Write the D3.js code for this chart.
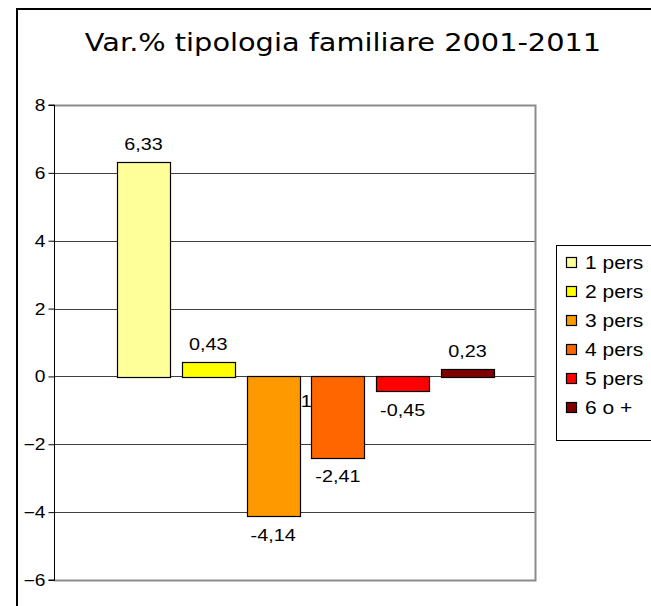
<!DOCTYPE html>
<html lang="it">
<head>
<meta charset="utf-8">
<title>Var.% tipologia familiare 2001-2011</title>
<script src="https://d3js.org/d3.v7.min.js"></script>
<style>
  body { margin: 0; background: #fff; }
  text { font-family: "Liberation Sans", Arial, sans-serif; fill: #000; }
  .title { font-family: "DejaVu Sans", Verdana, sans-serif; }
</style>
</head>
<body>
<svg id="chart" width="651" height="606"></svg>
<script>
// data
const series = ['1 pers', '2 pers', '3 pers', '4 pers', '5 pers', '6 o +'];
const values = [6.33, 0.43, -4.14, -2.41, -0.45, 0.23];
const labels = ['6,33', '0,43', '-4,14', '-2,41', '-0,45', '0,23'];
const colors = ['#ffff99', '#ffff00', '#ff9900', '#ff6600', '#ff0000', '#800000'];
const yTicks = [-6, -4, -2, 0, 2, 4, 6, 8];

// the original picture is a bit stretched sideways, so is its text
const STRETCH = 1.2;
const place = (x, y) => `translate(${x},${y}) scale(${STRETCH},1)`;

const svg = d3.select('#chart');

// outer chart border (runs off the right and bottom of the picture)
svg.append('rect')
  .attr('x', 17).attr('y', 9)
  .attr('width', 700).attr('height', 700)
  .attr('fill', '#fff').attr('stroke', '#000').attr('stroke-width', 2);

svg.append('text')
  .attr('class', 'title')
  .attr('transform', place(343, 51))
  .attr('text-anchor', 'middle')
  .style('font-size', '24px')
  .text('Var.% tipologia familiare 2001-2011');

const plot = { left: 54, right: 535, top: 105, bottom: 580 };

const y = d3.scaleLinear().domain([-6, 8]).range([plot.bottom, plot.top]);
const x = d3.scaleBand().domain(series).range([117, 494]).paddingInner(0.18);

// gridlines
svg.append('g')
  .selectAll('line')
  .data(yTicks.filter(d => d !== -6 && d !== 8))
  .join('line')
  .attr('x1', plot.left).attr('x2', plot.right)
  .attr('y1', d => Math.round(y(d)) + 0.5).attr('y2', d => Math.round(y(d)) + 0.5)
  .attr('stroke', '#404040');

// plot area border
svg.append('path')
  .attr('d', `M${plot.left},${plot.top + 0.5}H${plot.right + 0.5}V${plot.bottom + 0.5}H${plot.left}`)
  .attr('fill', 'none').attr('stroke', '#8c8c8c').attr('stroke-width', 2);

// hidden label peeking out between bars
svg.append('text')
  .attr('transform', place(x('3 pers') + x.bandwidth() + 1, y(-0.9)))
  .style('font-size', '16.5px')
  .text('1');

// bars
svg.append('g')
  .selectAll('rect')
  .data(values)
  .join('rect')
  .attr('x', (d, i) => Math.round(x(series[i])) + 0.5)
  .attr('y', d => Math.round(y(Math.max(0, d))) + 0.5)
  .attr('width', Math.round(x.bandwidth()))
  .attr('height', d => Math.round(Math.abs(y(d) - y(0))))
  .attr('fill', (d, i) => colors[i])
  .attr('stroke', '#000').attr('stroke-width', 1.2);

// value labels
svg.append('g')
  .selectAll('text')
  .data(values)
  .join('text')
  .attr('transform', (d, i) => place(x(series[i]) + x.bandwidth() / 2, d >= 0 ? y(d) - 12 : y(d) + 24))
  .attr('text-anchor', 'middle')
  .style('font-size', '16.5px')
  .text((d, i) => labels[i]);

// y axis
const yAxis = d3.axisLeft(y).tickValues(yTicks).tickSize(6).tickPadding(5).tickFormat(d3.format('d'));
const ga = svg.append('g')
  .attr('transform', `translate(${plot.left + 0.5},0)`)
  .call(yAxis);
ga.select('.domain').attr('stroke', '#000').attr('d', `M-6,${plot.top}H0V${plot.bottom}H-6`);
ga.selectAll('.tick line').attr('stroke', '#000');
ga.selectAll('.tick text')
  .attr('x', null).attr('dy', null)
  .attr('transform', `translate(-9,5.5) scale(${STRETCH},1)`)
  .style('font-family', '"Liberation Sans", Arial, sans-serif')
  .style('font-size', '16px')
  .attr('fill', '#000');

// legend
const legend = svg.append('g');
legend.append('rect')
  .attr('x', 556.5).attr('y', 245.5)
  .attr('width', 120).attr('height', 195)
  .attr('fill', '#fff').attr('stroke', '#000');

const item = legend.selectAll('g.item')
  .data(series)
  .join('g')
  .attr('class', 'item')
  .attr('transform', (d, i) => `translate(566,${263 + i * 29})`);

item.append('rect')
  .attr('x', 0.5).attr('y', -5.5)
  .attr('width', 10).attr('height', 10)
  .attr('fill', (d, i) => colors[i])
  .attr('stroke', '#000').attr('stroke-width', 1.2);

item.append('text')
  .attr('transform', place(19, 6))
  .style('font-size', '17.5px')
  .text(d => d);
</script>
</body>
</html>
